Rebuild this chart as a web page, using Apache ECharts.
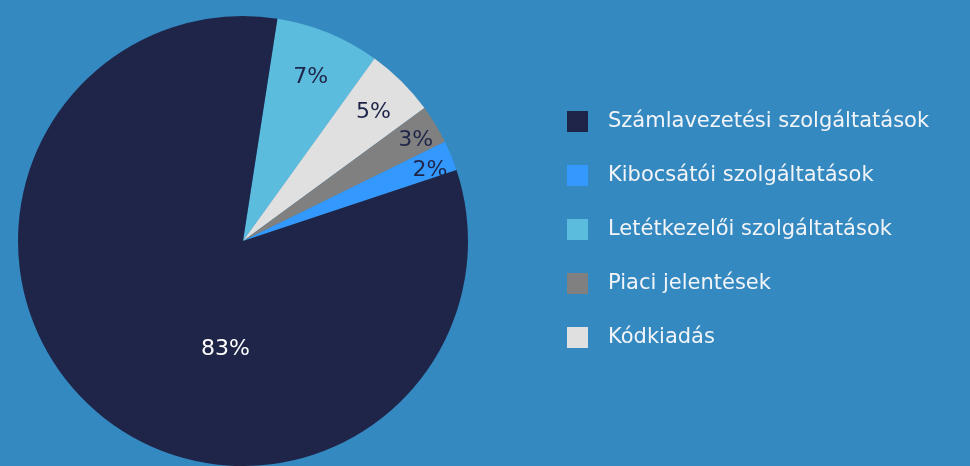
<!DOCTYPE html>
<html>
<head>
<meta charset="utf-8">
<script src="https://cdn.jsdelivr.net/npm/echarts@6/dist/echarts.min.js"></script>
<style>
  html, body { margin: 0; padding: 0; background: #3489c0; }
  #mychart { width: 970px; height: 466px; }
</style>
</head>
<body>
<div id="mychart"></div>
<script>
// legend order
const legendNames = ['Számlavezetési szolgáltatások', 'Kibocsátói szolgáltatások', 'Letétkezelői szolgáltatások', 'Piaci jelentések', 'Kódkiadás']
// slice order, clockwise from the top
const sliceNames = ['Letétkezelői szolgáltatások', 'Kódkiadás', 'Piaci jelentések', 'Kibocsátói szolgáltatások', 'Számlavezetési szolgáltatások']
const sliceValues = [7.49, 5.0, 2.8, 2.15, 82.56]

const colors = {
  'Számlavezetési szolgáltatások': '#1f2549',
  'Kibocsátói szolgáltatások': '#3399ff',
  'Letétkezelői szolgáltatások': '#5bbcdd',
  'Piaci jelentések': '#808080',
  'Kódkiadás': '#e0e0e0'
}
const labelOffsets = {
  'Számlavezetési szolgáltatások': [57, 20],
  'Kibocsátói szolgáltatások': [80, -27],
  'Letétkezelői szolgáltatások': [24, -57],
  'Piaci jelentések': [74, -41],
  'Kódkiadás': [49, -47]
}

const font = 'DejaVu Sans'

const option = {
  backgroundColor: '#3489c0',
  legend: {
    orient: 'vertical',
    left: 562,
    top: 106,
    itemWidth: 21,
    itemHeight: 21,
    itemGap: 33,
    icon: 'rect',
    data: legendNames,
    textStyle: {
      color: '#f2f4f8',
      fontFamily: font,
      fontSize: 21,
      padding: [0, 0, 0, 15]
    }
  },
  series: [
    {
      type: 'pie',
      center: [243, 241],
      radius: 225,
      startAngle: 81.2,
      clockwise: true,
      avoidLabelOverlap: false,
      silent: true,
      label: {
        show: true,
        position: 'inside',
        fontFamily: font,
        fontSize: 22,
        color: '#1f2549',
        formatter: p => Math.round(p.percent) + '%'
      },
      labelLine: { show: false },
      data: sliceNames.map((name, i) => ({
        name: name,
        value: sliceValues[i],
        itemStyle: { color: colors[name] },
        label: {
          offset: labelOffsets[name],
          color: name === 'Számlavezetési szolgáltatások' ? '#ffffff' : '#1f2549'
        }
      }))
    }
  ]
}

const myChart = echarts.init(document.getElementById('mychart'))
myChart.setOption(option)
</script>
</body>
</html>
